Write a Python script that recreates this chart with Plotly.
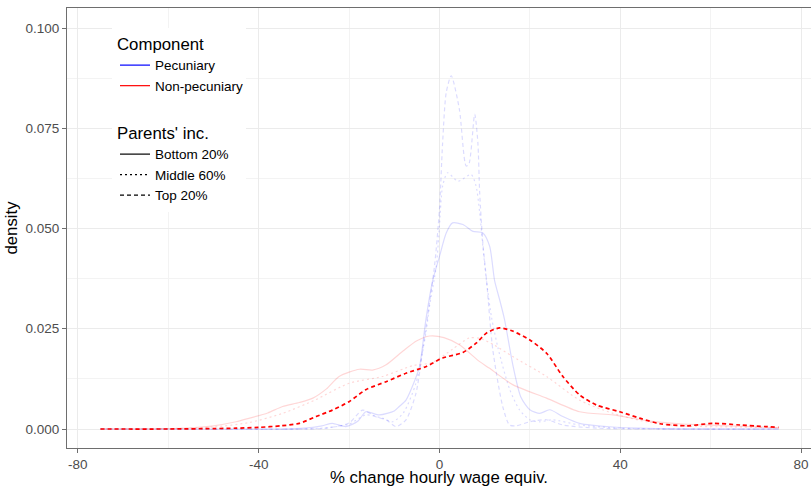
import plotly.graph_objects as go

# ---------------- data ----------------
# Non-pecuniary, Top 20% (highlighted)
np_top_x = [-75, -60, -50, -45, -40, -35, -31, -27.3, -23.7, -20, -16.3, -11.8, -7.4, -2.9, 0.7, 5.2, 8.1, 10.5, 13.3, 16, 20, 23.7, 27.3, 31, 34.7, 39.9, 44.3, 48.8, 54.7, 60.6, 66.5, 75]
np_top_y = [0, 0, 0.0001, 0.0002, 0.0004, 0.0008, 0.0014, 0.0031, 0.0047, 0.0068, 0.0098, 0.0118, 0.0139, 0.0156, 0.0177, 0.0191, 0.0214, 0.0240, 0.0252, 0.0245, 0.0222, 0.0189, 0.0131, 0.0085, 0.0060, 0.0043, 0.0027, 0.0013, 0.0008, 0.0014, 0.0010, 0.0004]

# Non-pecuniary, Bottom 20%
np_bot_x = [-75, -60, -55, -50, -45, -42, -38, -34.7, -31, -28, -25, -22.2, -17.7, -14.8, -11.8, -8, -5, -2.2, 1, 4.4, 8.9, 11, 16.3, 23.7, 31, 38.4, 45.8, 53.2, 64.3, 75]
np_bot_y = [0, 0.0001, 0.0003, 0.0008, 0.0018, 0.0027, 0.0040, 0.0056, 0.0066, 0.0077, 0.0100, 0.0131, 0.0149, 0.0147, 0.0160, 0.0195, 0.0220, 0.0232, 0.0228, 0.0210, 0.0168, 0.0152, 0.0110, 0.0077, 0.0043, 0.0035, 0.0021, 0.0013, 0.0008, 0.0003]

# Non-pecuniary, Middle 60%
np_mid_x = [-75, -55, -50, -42.1, -34.7, -27.4, -20, -12.6, -5.9, -1.5, 3, 6.6, 9, 12, 16.3, 23.7, 31, 38.4, 45.8, 53.2, 65, 75]
np_mid_y = [0, 0.0002, 0.0005, 0.0016, 0.0039, 0.0073, 0.0114, 0.0131, 0.0158, 0.0166, 0.0200, 0.0227, 0.0226, 0.0210, 0.0180, 0.0131, 0.0072, 0.0039, 0.0018, 0.0008, 0.0005, 0.0003]

# Pecuniary, Bottom 20%
p_bot_x = [-75, -35, -30, -26, -23.7, -20.7, -18, -16.3, -13.3, -10, -8.9, -7.4, -5.5, -4.4, -3, -1.5, 0, 1.5, 2.9, 5.2, 7.4, 9.6, 11.1, 12.2, 13.3, 14.4, 16.3, 18, 20, 22.2, 24.4, 27.3, 31, 38.4, 50, 75]
p_bot_y = [0, 0, 0.0002, 0.0008, 0.0014, 0.0006, 0.0020, 0.0043, 0.0035, 0.0045, 0.0056, 0.0072, 0.0120, 0.0156, 0.0273, 0.0370, 0.0430, 0.0489, 0.0514, 0.0510, 0.0493, 0.0489, 0.0456, 0.0370, 0.0323, 0.0273, 0.0156, 0.0080, 0.0048, 0.0039, 0.0048, 0.0031, 0.0014, 0.0005, 0.0001, 0]

# Pecuniary, Middle 60%
p_mid_x = [-75, -30, -25, -20, -16.3, -12.6, -10.4, -8, -5.2, -3, -2.2, -0.7, 0, 0.7, 1.8, 4.1, 7, 8.1, 8.9, 9.6, 10.4, 11.5, 13, 15.5, 17.7, 20, 22.2, 25, 31, 40, 75]
p_mid_y = [0, 0, 0.0003, 0.0012, 0.0035, 0.0027, 0.0018, 0.0040, 0.0114, 0.0239, 0.0306, 0.0406, 0.0506, 0.0606, 0.0639, 0.0618, 0.0635, 0.0606, 0.0540, 0.0456, 0.0370, 0.0280, 0.0200, 0.0100, 0.0048, 0.0023, 0.0018, 0.0023, 0.0010, 0.0002, 0]

# Pecuniary, Top 20%
p_top_x = [-75, -30, -25, -20, -17, -14, -11.8, -9.6, -7.4, -5.2, -3.7, -1.1, 0, 0.7, 1.5, 2.6, 4.4, 5.9, 6.5, 7.8, 8.5, 8.9, 9.6, 10.4, 11.8, 14, 15.5, 17, 20, 23.7, 27.3, 35, 75]
p_top_y = [0, 0, 0.0002, 0.0015, 0.0047, 0.0030, 0.0023, 0.0006, 0.0023, 0.0089, 0.0198, 0.0406, 0.0548, 0.0714, 0.0839, 0.0881, 0.0798, 0.0656, 0.0660, 0.0785, 0.0714, 0.0589, 0.0464, 0.0373, 0.0198, 0.0056, 0.0010, 0.0008, 0.0018, 0.0023, 0.0010, 0.0002, 0]

x_ticks = [-80, -40, 0, 40, 80]
y_ticks = [0.000, 0.025, 0.050, 0.075, 0.100]
y_tick_labels = ["0.000", "0.025", "0.050", "0.075", "0.100"]

component_names = ["Pecuniary", "Non-pecuniary"]
component_colors = ["blue", "red"]
group_names = ["Bottom 20%", "Middle 60%", "Top 20%"]

# ---------------- styles ----------------
FONT = "Liberation Sans, Arial, sans-serif"
BLUE_FADE = "rgba(0,0,255,0.14)"
RED_FADE = "rgba(255,0,0,0.16)"
DASH = {"Bottom 20%": "solid", "Middle 60%": "2px,3px", "Top 20%": "4px,3px"}

fig = go.Figure()

faded = [
    (p_bot_x, p_bot_y, BLUE_FADE, "Bottom 20%"),
    (p_mid_x, p_mid_y, BLUE_FADE, "Middle 60%"),
    (p_top_x, p_top_y, BLUE_FADE, "Top 20%"),
    (np_bot_x, np_bot_y, RED_FADE, "Bottom 20%"),
    (np_mid_x, np_mid_y, RED_FADE, "Middle 60%"),
]
for xs, ys, col, grp in faded:
    fig.add_trace(go.Scatter(x=xs, y=ys, mode="lines", showlegend=False, hoverinfo="skip",
                             line=dict(color=col, width=1.2, dash=DASH[grp], shape="spline", smoothing=0.7)))

fig.add_trace(go.Scatter(x=np_top_x, y=np_top_y, mode="lines", showlegend=False,
                         line=dict(color="red", width=1.7, dash="4px,3px", shape="spline", smoothing=0.7)))

# legend entries
for name, col in zip(component_names, component_colors):
    fig.add_trace(go.Scatter(x=[None], y=[None], mode="lines", name=name, legend="legend",
                             line=dict(color=col, width=1.2)))
for name in group_names:
    fig.add_trace(go.Scatter(x=[None], y=[None], mode="lines", name=name, legend="legend2",
                             line=dict(color="black", width=1.2, dash=DASH[name])))

W, H = 811, 487
L, T, B, R = 67, 8, 39, 0
pw, ph = W - L - R, H - T - B

def px_x(p):
    return (p - L) / pw

def px_y(p):
    return (H - B - p) / ph

legend_common = dict(bgcolor="rgba(0,0,0,0)", borderwidth=0, xanchor="left", yanchor="top",
                     font=dict(family=FONT, size=13.5, color="black"), itemwidth=30,
                     tracegroupgap=0, traceorder="normal")

fig.update_layout(
    width=W, height=H,
    margin=dict(l=L, r=R, t=T, b=B, autoexpand=False),
    paper_bgcolor="white", plot_bgcolor="white",
    font=dict(family=FONT, color="black"),
    legend=dict(**legend_common, x=px_x(115), y=px_y(28),
                title=dict(text="Component", font=dict(family=FONT, size=16.8, color="black"))),
    legend2=dict(**legend_common, x=px_x(115), y=px_y(117),
                 title=dict(text="Parents' inc.", font=dict(family=FONT, size=16.8, color="black"))),
    shapes=[dict(type="rect", xref="paper", yref="paper", x0=px_x(112), x1=px_x(246),
                 y0=px_y(212), y1=px_y(28), fillcolor="white", line=dict(width=0), layer="above")],
)

fig.update_xaxes(
    range=[-82.4, 82.2], tickvals=x_ticks, ticktext=[str(v) for v in x_ticks],
    automargin=False,
    showgrid=True, gridcolor="#ebebeb", gridwidth=1,
    minor=dict(showgrid=True, gridcolor="#f3f3f3", gridwidth=0.6, dtick=20, tick0=-80),
    zeroline=False, showline=True, linecolor="#6e6e6e", linewidth=1, mirror=True,
    ticks="outside", ticklen=4, tickcolor="#6e6e6e", tickwidth=1,
    tickfont=dict(family=FONT, size=13.5, color="#4d4d4d"),
    title=dict(text="% change hourly wage equiv.", font=dict(family=FONT, size=16.8, color="black"), standoff=7),
)
fig.update_yaxes(
    range=[-0.00474, 0.105], tickvals=y_ticks, ticktext=y_tick_labels,
    automargin=False,
    showgrid=True, gridcolor="#ebebeb", gridwidth=1,
    minor=dict(showgrid=True, gridcolor="#f3f3f3", gridwidth=0.6, dtick=0.0125, tick0=0),
    zeroline=False, showline=True, linecolor="#6e6e6e", linewidth=1,
    ticks="outside", ticklen=4, tickcolor="#6e6e6e", tickwidth=1,
    tickfont=dict(family=FONT, size=13.5, color="#4d4d4d"),
    title=dict(text="density", font=dict(family=FONT, size=16.8, color="black"), standoff=3),
)

fig.write_html("out.html")
